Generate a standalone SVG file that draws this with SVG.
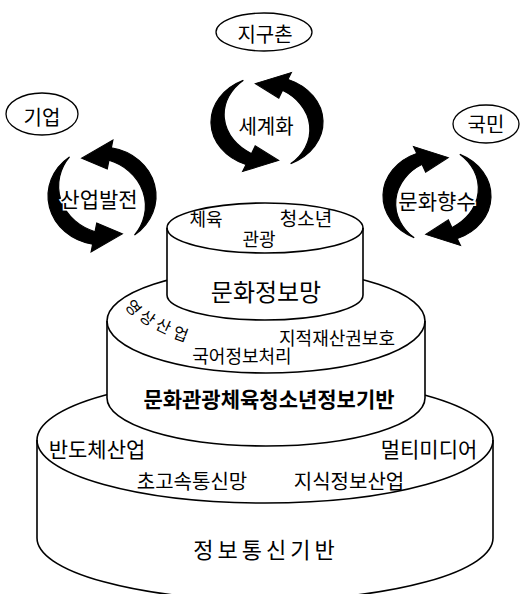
<svg xmlns="http://www.w3.org/2000/svg" width="521" height="594" viewBox="0 0 521 594">
<defs>
<style>
text{font-family:"Noto Sans CJK KR","Noto Sans",sans-serif;fill:#000;text-anchor:middle;dominant-baseline:central}
.cyl{fill:#fff;stroke:#000;stroke-width:1.6;stroke-linejoin:round}
.ln{fill:none;stroke:#000;stroke-width:1.6}
.arw{fill:#000;stroke:#000;stroke-width:1.1;stroke-linejoin:miter}
.ell{fill:#fff;stroke:#000;stroke-width:1.3}
.halo{stroke:#fff;stroke-width:3;paint-order:stroke}
.b{font-weight:bold}
</style>
<path id="arcA" d="M -21.13,-45.32 A 50 50 0 0 0 -18.73,46.36 L -21.73,53.78 L 10.40,41.72 L -10.49,25.96 L -13.86,34.31 A 49 49 0 0 1 -21.13,-45.32 Z"/>
<g id="cycle">
<use href="#arcA"/>
<use href="#arcA" transform="rotate(180)"/>
</g>
</defs>
<rect width="521" height="594" fill="#fff"/>

<g id="cycle-arrows" class="arw">
<use href="#cycle" transform="translate(267,122) scale(1.12,0.92)"/>
<use href="#cycle" transform="translate(102,196) scale(1.08,0.98) rotate(-12)"/>
<use href="#cycle" transform="translate(437,196) scale(-1.08,0.92)"/>
</g>

<g id="node-jiguchon">
<ellipse class="ell" cx="264" cy="32" rx="48" ry="19"/>
<text x="265" y="33" font-size="20">지구촌</text>
</g>
<g id="node-gieop">
<ellipse class="ell" cx="42" cy="114" rx="36" ry="21"/>
<text x="42" y="116" font-size="20">기업</text>
</g>
<g id="node-gukmin">
<ellipse class="ell" cx="486" cy="124" rx="33" ry="19"/>
<text x="486" y="123" font-size="20">국민</text>
</g>
<g id="node-segyehwa">
<text class="halo" x="266" y="125" font-size="20">세계화</text>
</g>
<g id="node-saneop">
<text class="halo" x="99" y="198" font-size="21">산업발전</text>
</g>
<g id="node-munhwa">
<text class="halo" x="437" y="200" font-size="21">문화향수</text>
</g>

<g id="node-base">
<path class="cyl" d="M37,440 A228 63 0 0 1 493,440 L493,538 A228 62 0 0 1 37,538 Z"/>
<path class="ln" d="M37,440 A228 63 0 0 0 493,440"/>
<text x="97" y="448" font-size="21">반도체산업</text>
<text x="429" y="448" font-size="21">멀티미디어</text>
<text x="192" y="480" font-size="20">초고속통신망</text>
<text x="349" y="480" font-size="20">지식정보산업</text>
<text x="266" y="548" font-size="22" letter-spacing="4">정보통신기반</text>
</g>

<g id="node-middle">
<path class="cyl" d="M107,321 A159 52 0 0 1 425,321 L425,398 A159 48 0 0 1 107,398 Z"/>
<path class="ln" d="M107,321 A159 52 0 0 0 425,321"/>
<text x="134" y="307" font-size="16" transform="rotate(50 134 307)">영</text>
<text x="148" y="317" font-size="16" transform="rotate(35 148 317)">상</text>
<text x="164" y="325" font-size="16" transform="rotate(25 164 325)">산</text>
<text x="181" y="333" font-size="16" transform="rotate(20 181 333)">업</text>
<text x="337" y="337" font-size="18">지적재산권보호</text>
<text x="242" y="355" font-size="18">국어정보처리</text>
<text class="b" x="269" y="398" font-size="21">문화관광체육청소년정보기반</text>
</g>

<g id="node-top">
<path class="cyl" d="M167,228 A98 25 0 0 1 363,228 L363,295 A98 25 0 0 1 167,295 Z"/>
<path class="ln" d="M167,228 A98 25 0 0 0 363,228"/>
<text x="206" y="218" font-size="18">체육</text>
<text x="306" y="217" font-size="19">청소년</text>
<text x="259" y="238" font-size="18">관광</text>
<text x="266" y="290" font-size="24">문화정보망</text>
</g>
</svg>
